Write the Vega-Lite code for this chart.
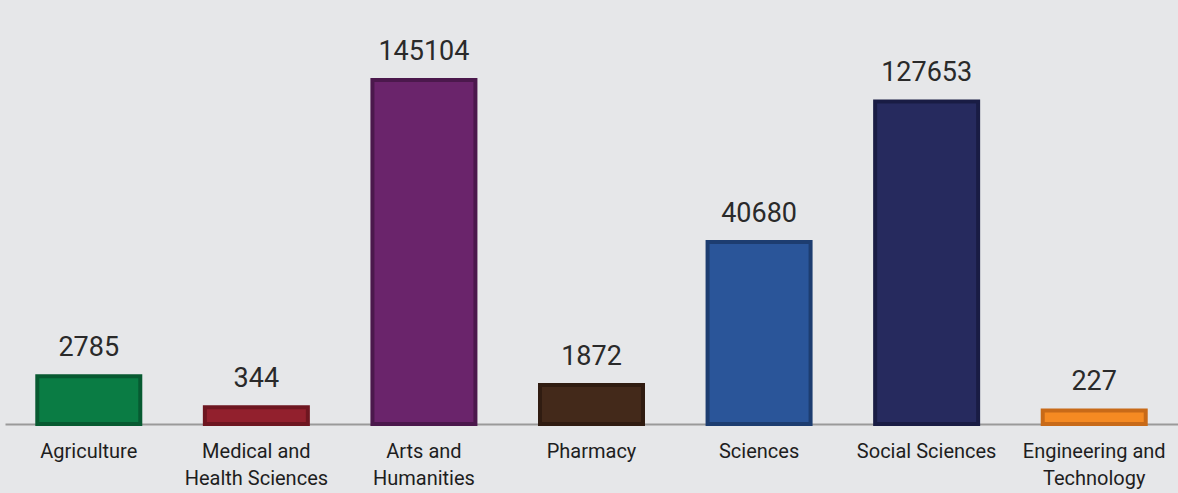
{
  "$schema": "https://vega.github.io/schema/vega-lite/v6.json",
  "width": 1173,
  "height": 424,
  "autosize": {"type": "none"},
  "padding": {"left": 5, "top": 0, "right": 0, "bottom": 69},
  "background": "#e6e7e9",
  "config": {"view": {"stroke": null}, "font": "Roboto"},
  "data": {
    "values": [
      {"field": "Agriculture", "students": 2785},
      {"field": "Medical and Health Sciences", "students": 344},
      {"field": "Arts and Humanities", "students": 145104},
      {"field": "Pharmacy", "students": 1872},
      {"field": "Sciences", "students": 40680},
      {"field": "Social Sciences", "students": 127653},
      {"field": "Engineering and Technology", "students": 227}
    ]
  },
  "encoding": {
    "x": {
      "field": "field",
      "type": "nominal",
      "sort": null,
      "scale": {"paddingInner": 0.36, "paddingOuter": 0.18},
      "axis": {
        "title": null,
        "labelAngle": 0,
        "labelFontSize": 20,
        "labelColor": "#1e1e1e",
        "labelPadding": 17,
        "labelLineHeight": 27,
        "labelBaseline": "top",
        "ticks": false,
        "domainColor": "#9a9a9a",
        "domainWidth": 2,
        "labelExpr": "datum.value == 'Medical and Health Sciences' ? ['Medical and', 'Health Sciences'] : datum.value == 'Arts and Humanities' ? ['Arts and', 'Humanities'] : datum.value == 'Engineering and Technology' ? ['Engineering and', 'Technology'] : datum.value"
      }
    },
    "y": {
      "field": "students",
      "type": "quantitative",
      "scale": {"type": "sqrt", "domain": [0, 220500]},
      "axis": null
    }
  },
  "layer": [
    {
      "mark": {"type": "bar", "strokeWidth": 4, "strokeJoin": "miter", "width": 103},
      "encoding": {
        "color": {
          "field": "field",
          "type": "nominal",
          "sort": null,
          "legend": null,
          "scale": {
            "domain": ["Agriculture", "Medical and Health Sciences", "Arts and Humanities", "Pharmacy", "Sciences", "Social Sciences", "Engineering and Technology"],
            "range": ["#0a7c44", "#92202d", "#6a246b", "#43291a", "#2a5599", "#262a5e", "#f58a22"]
          }
        },
        "stroke": {
          "field": "field",
          "type": "nominal",
          "sort": null,
          "legend": null,
          "scale": {
            "domain": ["Agriculture", "Medical and Health Sciences", "Arts and Humanities", "Pharmacy", "Sciences", "Social Sciences", "Engineering and Technology"],
            "range": ["#075a31", "#6e1620", "#4b184c", "#301c11", "#1d3d70", "#191c44", "#c86a18"]
          }
        }
      }
    },
    {
      "mark": {"type": "text", "fontSize": 27, "color": "#2a2a2a", "baseline": "alphabetic", "dy": -20},
      "encoding": {
        "text": {"field": "students", "type": "quantitative", "format": "d"}
      }
    }
  ]
}
